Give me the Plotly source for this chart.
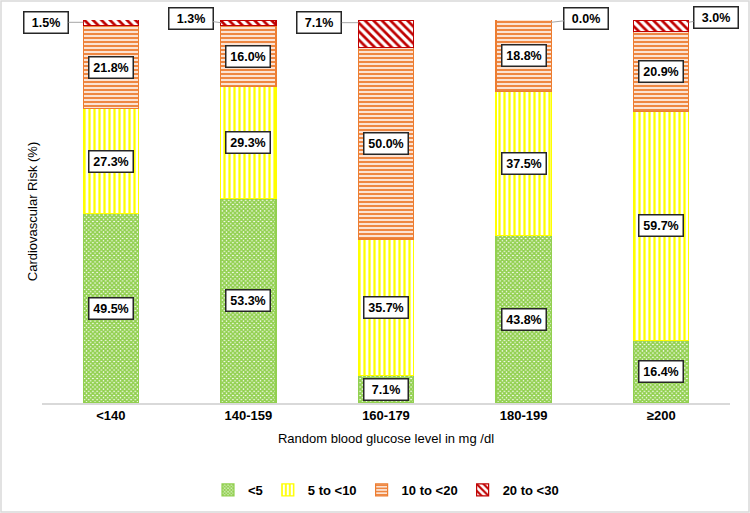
import plotly.graph_objects as go

categories = ["<140", "140-159", "160-179", "180-199", "≥200"]
series_names = ["<5", "5 to <10", "10 to <20", "20 to <30"]
risk_lt5 = [49.5, 53.3, 7.1, 43.8, 16.4]
risk_5_10 = [27.3, 29.3, 35.7, 37.5, 59.7]
risk_10_20 = [21.8, 16.0, 50.0, 18.8, 20.9]
risk_20_30 = [1.5, 1.3, 7.1, 0.0, 3.0]
series_values = [risk_lt5, risk_5_10, risk_10_20, risk_20_30]

FONT = "Liberation Sans Narrow, Arial Narrow, Liberation Sans, Arial, sans-serif"
BAR_W = 0.4

styles = [
    dict(line="#92d050", pattern=dict(shape="x", fgcolor="#92d050", bgcolor="#ffffff", size=3, solidity=0.8, fillmode="replace")),
    dict(line="#ffff00", pattern=dict(shape="|", fgcolor="#ffff00", bgcolor="#ffffff", size=5, solidity=0.45, fillmode="replace")),
    dict(line="#ed7d31", pattern=dict(shape="-", fgcolor="#ed7d31", bgcolor="#fbe3d4", size=4, solidity=0.45, fillmode="replace")),
    dict(line="#c00000", pattern=dict(shape="\\", fgcolor="#c00000", bgcolor="#ffffff", size=6, solidity=0.45, fillmode="replace")),
]

fig = go.Figure()
for name, vals, st in zip(series_names, series_values, styles):
    fig.add_trace(go.Bar(
        x=categories, y=vals, name=name, width=BAR_W,
        marker=dict(color="#ffffff", line=dict(color=st["line"], width=1.2), pattern=st["pattern"]),
        hoverinfo="x+y+name",
    ))

box = dict(font=dict(family=FONT, size=12.5, color="#000000", weight="bold"),
           bgcolor="#ffffff", bordercolor="#262626", borderwidth=1.5, borderpad=3, width=37)

annotations = []
for i, cat in enumerate(categories):
    base = 0.0
    for s, vals in enumerate(series_values):
        v = vals[i]
        if s < 3:
            annotations.append(dict(x=i, y=base + v / 2, xref="x", yref="y",
                                    text=f"{v:.1f}%", showarrow=False, **box))
        base += v

callout_offsets = [(-37, 0, -1), (-30, -4, -1), (-39, 0, -1), (35, -4, 1), (27, -5, 1)]
for i, cat in enumerate(categories):
    top = sum(vals[i] for vals in series_values)
    ax, ay, side = callout_offsets[i]
    annotations.append(dict(
        x=i + side * BAR_W / 2, y=min(top, 100) - 0.6, xref="x", yref="y",
        text=f"{risk_20_30[i]:.1f}%", showarrow=True, arrowhead=0, arrowwidth=1,
        arrowcolor="#a6a6a6", ax=ax, ay=ay, standoff=0, startstandoff=0, **box))

L, R, T, B = 42, 20, 20, 110
PW, PH = 750 - L - R, 513 - T - B

fig.update_layout(
    barmode="stack",
    width=750, height=513,
    margin=dict(l=L, r=R, t=T, b=B, autoexpand=False),
    plot_bgcolor="#ffffff", paper_bgcolor="#ffffff",
    font=dict(family=FONT, color="#000000"),
    annotations=annotations,
    xaxis=dict(showline=True, linecolor="#d9d9d9", linewidth=1.5, ticks="",
               automargin=False, range=[-0.5, len(categories) - 0.5], autorange=False,
               tickfont=dict(family=FONT, size=13, color="#000000", weight="bold"),
               title=dict(text="Random blood glucose level in mg /dl",
                          font=dict(family=FONT, size=13, color="#000000"), standoff=12),
               showgrid=False),
    yaxis=dict(range=[0, 100], showticklabels=False, showgrid=False, zeroline=False,
               showline=False, ticks="", automargin=False,
               title=dict(text="Cardiovascular Risk (%)",
                          font=dict(family=FONT, size=13, color="#000000"), standoff=0)),
    legend=dict(orientation="h", x=0.5, xanchor="center", yref="container",
                y=1 - 475 / 513, yanchor="top",
                font=dict(family=FONT, size=13, color="#000000", weight="bold"),
                itemwidth=30, traceorder="normal"),
    shapes=[dict(type="rect", xref="paper", yref="paper",
                 x0=(1 - L) / PW, x1=(749 - L) / PW,
                 y0=(T + PH - 512) / PH, y1=(T + PH - 1) / PH,
                 line=dict(color="#d9d9d9", width=1.5), fillcolor="rgba(0,0,0,0)", layer="below")],
)

fig.write_html("out.html")
